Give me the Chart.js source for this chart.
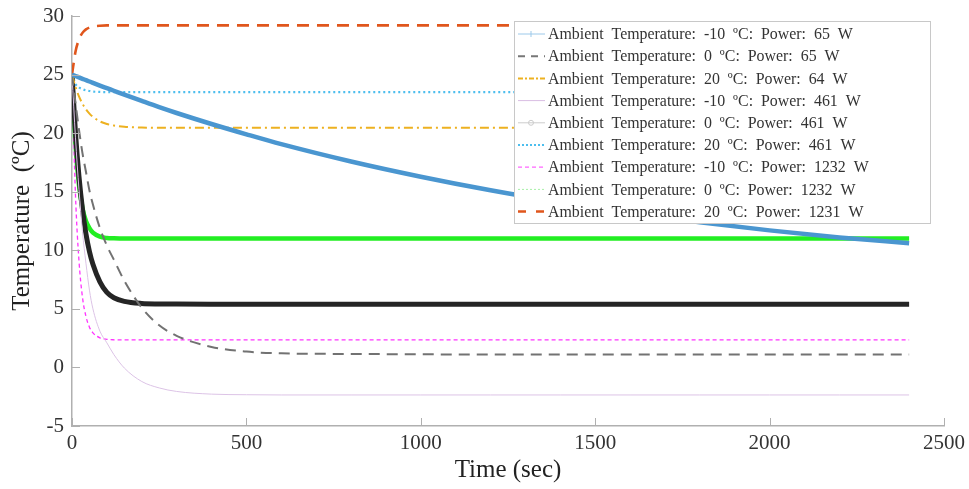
<!DOCTYPE html>
<html lang="en">
<head>
<meta charset="UTF-8">
<title>Temperature vs time</title>
<script src="https://cdn.jsdelivr.net/npm/chart.js"></script>
<style>
  html, body { margin: 0; padding: 0; background: #fff; }
  #wrap { width: 969px; height: 489px; position: relative; }
</style>
</head>
<body>
<div id="wrap"><canvas id="myChart"></canvas></div>
<script>
// time samples (sec)
const timeSec = [0, 10, 20, 30, 40, 50, 60, 80, 100, 120, 150, 200, 250, 300, 400, 500, 600, 800, 1000, 1200, 1400, 1600, 1800, 2000, 2200, 2400];

// temperatures (ºC)
const tempAmbM10P65   = [25, 24.88, 24.76, 24.64, 24.52, 24.41, 24.29, 24.06, 23.84, 23.62, 23.29, 22.75, 22.22, 21.72, 20.78, 19.9, 19.06, 17.58, 16.28, 15.12, 14.1, 13.2, 12.4, 11.7, 11.1, 10.6];
const tempAmb0P65     = [25, 22.6, 20.3, 18.3, 16.7, 15.1, 13.9, 11.9, 10.4, 9.2, 7.4, 5.1, 3.6, 2.7, 1.75, 1.35, 1.2, 1.15, 1.12, 1.1, 1.1, 1.1, 1.1, 1.1, 1.1, 1.1];
const tempAmb20P64    = [25, 23.95, 23.14, 22.52, 22.04, 21.67, 21.39, 21.0, 20.78, 20.65, 20.54, 20.48, 20.46, 20.45, 20.45, 20.45, 20.45, 20.45, 20.45, 20.45, 20.45, 20.45, 20.45, 20.45, 20.45, 20.45];
const tempAmbM10P461  = [25, 19.6, 15.2, 11.6, 8.9, 6.6, 5.0, 3.1, 2.1, 1.1, -0.05, -1.2, -1.75, -2.05, -2.28, -2.33, -2.35, -2.35, -2.35, -2.35, -2.35, -2.35, -2.35, -2.35, -2.35, -2.35];
const tempAmb0P461    = [25, 20.0, 16.3, 13.5, 11.4, 9.9, 8.8, 7.3, 6.4, 5.95, 5.64, 5.46, 5.42, 5.41, 5.4, 5.4, 5.4, 5.4, 5.4, 5.4, 5.4, 5.4, 5.4, 5.4, 5.4, 5.4];
const tempAmb20P461   = [25, 24.2, 23.9, 23.75, 23.65, 23.6, 23.55, 23.52, 23.5, 23.5, 23.5, 23.5, 23.5, 23.5, 23.5, 23.5, 23.5, 23.5, 23.5, 23.5, 23.5, 23.5, 23.5, 23.5, 23.5, 23.5];
const tempAmbM10P1232 = [25, 14.7, 9.1, 6.0, 4.35, 3.44, 2.95, 2.53, 2.4, 2.36, 2.35, 2.35, 2.35, 2.35, 2.35, 2.35, 2.35, 2.35, 2.35, 2.35, 2.35, 2.35, 2.35, 2.35, 2.35, 2.35];
const tempAmb0P1232   = [25, 19.0, 15.6, 13.6, 12.5, 11.9, 11.5, 11.16, 11.05, 11.02, 11.0, 11.0, 11.0, 11.0, 11.0, 11.0, 11.0, 11.0, 11.0, 11.0, 11.0, 11.0, 11.0, 11.0, 11.0, 11.0];
const tempAmb20P1231  = [25, 26.95, 28.0, 28.56, 28.86, 29.02, 29.1, 29.17, 29.2, 29.2, 29.2, 29.2, 29.2, 29.2, 29.2, 29.2, 29.2, 29.2, 29.2, 29.2, 29.2, 29.2, 29.2, 29.2, 29.2, 29.2];

const seriesLabels = [
  'Ambient  Temperature:  -10  ºC:  Power:  65  W',
  'Ambient  Temperature:  0  ºC:  Power:  65  W',
  'Ambient  Temperature:  20  ºC:  Power:  64  W',
  'Ambient  Temperature:  -10  ºC:  Power:  461  W',
  'Ambient  Temperature:  0  ºC:  Power:  461  W',
  'Ambient  Temperature:  20  ºC:  Power:  461  W',
  'Ambient  Temperature:  -10  ºC:  Power:  1232  W',
  'Ambient  Temperature:  0  ºC:  Power:  1232  W',
  'Ambient  Temperature:  20  ºC:  Power:  1231  W'
];
const seriesValues = [tempAmbM10P65, tempAmb0P65, tempAmb20P64, tempAmbM10P461, tempAmb0P461,
  tempAmb20P461, tempAmbM10P1232, tempAmb0P1232, tempAmb20P1231];

const xTicks = [0, 500, 1000, 1500, 2000, 2500];
const yTicks = [-5, 0, 5, 10, 15, 20, 25, 30];

// line look in the plot, and the (thinner) sample drawn in the legend box
const lineStyles = [
  { color: '#4a96d0', width: 4.5, dash: [] },
  { color: '#727272', width: 2, dash: [11, 7] },
  { color: '#edb120', width: 2, dash: [9, 4, 2, 4] },
  { color: '#dcc3e6', width: 1, dash: [] },
  { color: '#252525', width: 5, dash: [] },
  { color: '#4dbeee', width: 2.2, dash: [2, 3] },
  { color: '#ff33ff', width: 1.3, dash: [4, 3] },
  { color: '#22ee22', width: 4.5, dash: [] },
  { color: '#e0561c', width: 2.6, dash: [12, 8] }
];
const legendStyles = [
  { color: '#9cc9ea', width: 1, dash: [] },
  { color: '#777777', width: 2, dash: [7, 6] },
  { color: '#edb120', width: 2, dash: [5, 2, 2, 2] },
  { color: '#d9bde3', width: 1, dash: [] },
  { color: '#cccccc', width: 1, dash: [] },
  { color: '#4dbeee', width: 2, dash: [2, 2] },
  { color: '#ff66ff', width: 1.3, dash: [4, 3] },
  { color: '#a8f0a8', width: 1, dash: [2, 2] },
  { color: '#e0561c', width: 2.5, dash: [8, 10] }
];

const serif = "'Liberation Serif', 'Times New Roman', serif";

const datasets = seriesValues.map((vals, i) => ({
  label: seriesLabels[i],
  data: vals.map((v, k) => ({ x: timeSec[k], y: v })),
  borderColor: lineStyles[i].color,
  borderWidth: lineStyles[i].width,
  borderDash: lineStyles[i].dash,
  borderCapStyle: 'butt',
  pointRadius: 0,
  cubicInterpolationMode: 'monotone',
  fill: false
}));

// ticks pointing inward from the left and bottom axes
const innerTicks = {
  id: 'innerTicks',
  afterDatasetsDraw(chart) {
    const ctx = chart.ctx, a = chart.chartArea;
    const xs = chart.scales.x, ys = chart.scales.y;
    ctx.save();
    ctx.strokeStyle = '#b0b0b0';
    ctx.lineWidth = 1;
    ctx.beginPath();
    xTicks.forEach(t => {
      const px = Math.round(xs.getPixelForValue(t)) + 0.5;
      ctx.moveTo(px, a.bottom); ctx.lineTo(px, a.bottom - 8);
    });
    yTicks.forEach(t => {
      const py = Math.round(ys.getPixelForValue(t)) + 0.5;
      ctx.moveTo(a.left, py); ctx.lineTo(a.left + 8, py);
    });
    ctx.stroke();
    ctx.restore();
  }
};

// boxed legend in the upper right, like the original figure
const boxLegend = {
  id: 'boxLegend',
  afterDraw(chart) {
    const ctx = chart.ctx;
    const bx = 514, by = 21, bw = 416, bh = 202, rowH = 22.2;
    ctx.save();
    ctx.fillStyle = '#fff';
    ctx.fillRect(bx, by, bw, bh);
    ctx.strokeStyle = '#c8c8c8';
    ctx.lineWidth = 1;
    ctx.strokeRect(bx + 0.5, by + 0.5, bw, bh);
    ctx.font = '15.9px ' + serif;
    ctx.textBaseline = 'middle';
    chart.data.datasets.forEach((ds, i) => {
      const y = by + 13 + i * rowH;
      const st = legendStyles[i];
      ctx.strokeStyle = st.color;
      ctx.lineWidth = st.width;
      ctx.setLineDash(st.dash);
      ctx.beginPath();
      ctx.moveTo(bx + 4, y); ctx.lineTo(bx + 31, y);
      ctx.stroke();
      ctx.setLineDash([]);
      if (i === 4) {
        ctx.beginPath(); ctx.arc(bx + 17, y, 2.5, 0, Math.PI * 2); ctx.stroke();
      }
      if (i === 0) {
        ctx.beginPath(); ctx.moveTo(bx + 17, y - 3); ctx.lineTo(bx + 17, y + 3); ctx.stroke();
      }
      ctx.fillStyle = '#333';
      ctx.fillText(ds.label, bx + 34, y + 1);
    });
    ctx.restore();
  }
};

new Chart(document.getElementById('myChart'), {
  type: 'line',
  data: { datasets: datasets },
  options: {
    responsive: true,
    maintainAspectRatio: false,
    animation: false,
    layout: { padding: { top: 16, right: 25, left: 0, bottom: 0 } },
    plugins: {
      legend: { display: false },
      tooltip: { enabled: false }
    },
    scales: {
      x: {
        type: 'linear',
        min: 0, max: 2500,
        afterBuildTicks: s => { s.ticks = xTicks.map(v => ({ value: v })); },
        afterFit: s => { s.height = 63; s.paddingLeft = 0; s.paddingRight = 0; },
        grid: { display: true, drawOnChartArea: false, drawTicks: false },
        border: { display: true, color: '#b0b0b0', width: 1.5 },
        ticks: { color: '#333', padding: 5, font: { family: serif, size: 21 }, maxRotation: 0, callback: v => String(v) },
        title: { display: true, text: 'Time (sec)', color: '#222', padding: { top: 0, bottom: 4 }, font: { family: serif, size: 25 } }
      },
      y: {
        type: 'linear',
        min: -5, max: 30,
        afterBuildTicks: s => { s.ticks = yTicks.map(v => ({ value: v })); },
        afterFit: s => { s.width = 72; s.paddingTop = 0; s.paddingBottom = 0; },
        grid: { display: true, drawOnChartArea: false, drawTicks: false },
        border: { display: true, color: '#b0b0b0', width: 1.5 },
        ticks: { color: '#333', padding: 8, font: { family: serif, size: 21 }, callback: v => String(v) },
        title: { display: true, text: 'Temperature  (ºC)', color: '#222', padding: { top: 7, bottom: 0 }, font: { family: serif, size: 25 } }
      }
    }
  },
  plugins: [innerTicks, boxLegend]
});
</script>
</body>
</html>
